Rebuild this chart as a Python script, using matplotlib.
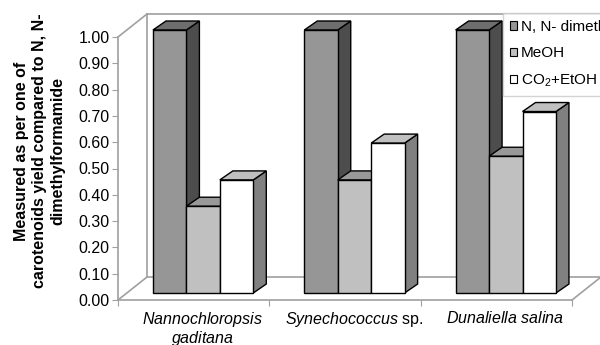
import matplotlib
matplotlib.use("Agg")
from matplotlib import pyplot as plt
from matplotlib.patches import Polygon, Patch

plt.rcParams["font.family"] = ["Liberation Sans", "DejaVu Sans"]
plt.rcParams["mathtext.fontset"] = "custom"
plt.rcParams["mathtext.rm"] = "Liberation Sans"
plt.rcParams["mathtext.it"] = "Liberation Sans:italic"

# data
categories = ["$\\mathit{Nannochloropsis}$\n$\\mathit{gaditana}$",
              "$\\mathit{Synechococcus}$ sp.",
              "$\\mathit{Dunaliella\\ salina}$"]
series = ["N, N- dimethylformamide", "MeOH", "CO$_2$+EtOH"]
dmf = [1.00, 1.00, 1.00]
meoh = [0.33, 0.43, 0.52]
co2_etoh = [0.43, 0.57, 0.69]
values = [dmf, meoh, co2_etoh]
yticks = [0.0, 0.1, 0.2, 0.3, 0.4, 0.5, 0.6, 0.7, 0.8, 0.9, 1.0]

# colours: front, side, top
faces = [("#969696", "#4d4d4d", "#6e6e6e"),
         ("#c0c0c0", "#606060", "#999999"),
         ("#ffffff", "#808080", "#c0c0c0")]
wall = "#a0a0a0"

fig = plt.figure(figsize=(6, 3.45), dpi=100)
ax = fig.add_axes([118 / 600, 45 / 345, 454 / 600, 263 / 345])
ax.set_xlim(0, 3)
ax.set_ylim(0, 1)

# 3d depth of the walls (data units)
wx, wy = 29 / 151.3, 23 / 263
# bar placement
bw = 0.221
off_x, off_y = 0.231, 0.0266
bdx, bdy = 13 / 151.3, 9 / 263

# walls
kw = dict(color=wall, lw=1.2, clip_on=False, zorder=1)
ax.plot([0, wx], [1, 1 + wy], **kw)
ax.plot([wx, wx], [wy, 1 + wy], **kw)
ax.plot([0, wx], [0, wy], **kw)
ax.plot([wx, 3 + wx], [1 + wy, 1 + wy], **kw)
ax.plot([wx, 3 + wx], [wy, wy], **kw)
ax.plot([3, 3 + wx], [0, wy], **kw)
ax.plot([3 + wx, 3 + wx], [wy, 1 + wy], **kw)

# bars with side and top faces
for g in range(3):
    for s in range(3):
        v = values[s][g]
        x0 = g + off_x + s * bw
        front, side, top = faces[s]
        z = 3 + g * 3 + s
        ax.bar(x0, v, width=bw, bottom=off_y, align="edge", color=front,
               edgecolor="black", lw=1.0, zorder=z, clip_on=False)
        y1 = off_y + v
        ax.add_patch(Polygon([(x0 + bw, off_y), (x0 + bw + bdx, off_y + bdy),
                              (x0 + bw + bdx, y1 + bdy), (x0 + bw, y1)],
                             closed=True, fc=side, ec="black", lw=1.0,
                             zorder=z - 0.5, clip_on=False))
        ax.add_patch(Polygon([(x0, y1), (x0 + bdx, y1 + bdy),
                              (x0 + bw + bdx, y1 + bdy), (x0 + bw, y1)],
                             closed=True, fc=top, ec="black", lw=1.0,
                             zorder=z - 0.5, clip_on=False))

for sp in ["top", "right"]:
    ax.spines[sp].set_visible(False)
for sp in ["left", "bottom"]:
    ax.spines[sp].set_color(wall)
    ax.spines[sp].set_linewidth(1.2)

ax.set_yticks(yticks)
ax.set_yticklabels([f"{t:.2f}" for t in yticks], fontsize=11.5)
ax.tick_params(axis="y", length=4, color=wall, pad=2)
ax.set_xticks([0, 1, 2, 3])
ax.set_xticklabels([])
ax.tick_params(axis="x", length=4, color=wall)
ax.set_xticks([g + 0.5 + 0.06 for g in range(3)], minor=True)
ax.set_xticklabels(categories, minor=True, fontsize=11.5, linespacing=1.05)
ax.tick_params(axis="x", which="minor", length=0, pad=7)

fig.text(40 / 600, 1 - 151 / 345,
         "Measured as per one of\ncarotenoids yield compared to N, N-\ndimethylformamide",
         rotation=90, ha="center", va="center", fontsize=11.5, fontweight="bold",
         linespacing=1.25)

handles = [Patch(fc=faces[i][0], ec="black", lw=0.8) for i in range(3)]
leg = fig.legend(handles, series, loc="upper left", bbox_to_anchor=(503 / 600, 1 - 13 / 345),
                 fontsize=11, frameon=True, fancybox=False, handlelength=0.45,
                 handleheight=0.45, handletextpad=0.25, labelspacing=0.8,
                 borderpad=0.45, borderaxespad=0)
leg.get_frame().set_edgecolor("#c8c8c8")
leg.get_frame().set_linewidth(1.0)

fig.savefig("out.png", dpi=100)
